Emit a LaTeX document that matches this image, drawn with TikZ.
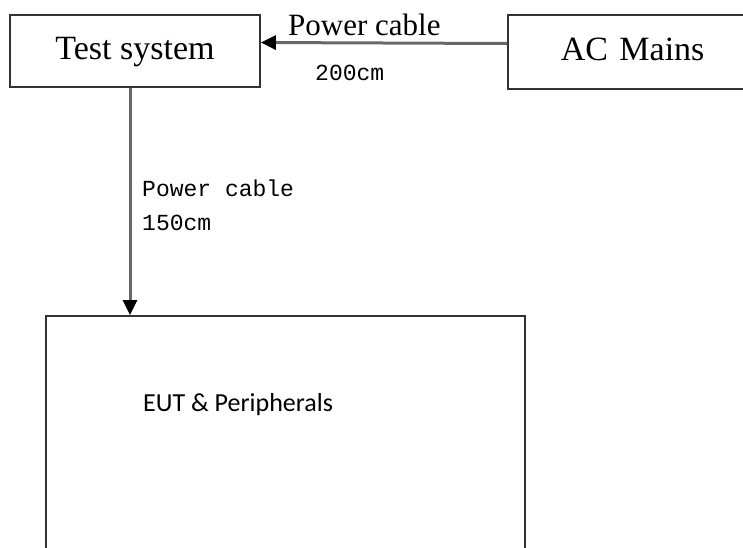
\documentclass[tikz,border=0pt]{standalone}
\usepackage{fontspec}
\setmainfont{Liberation Serif}
\newfontfamily\cablefont{Liberation Mono}
\newfontfamily\eutfont{Carlito}
\usetikzlibrary{positioning,arrows.meta}
\definecolor{wline}{HTML}{333333}
\definecolor{wcable}{HTML}{686868}

\begin{document}
\begin{tikzpicture}[x=1pt, y=-1pt,
  blk/.style={rectangle, draw=wline, line width=1.8pt, fill=white, inner sep=0pt,
    font=\fontsize{34}{40}\selectfont, text height=23pt, text depth=7pt},
  arr/.style={-{Triangle[length=15pt, width=14pt, black]}, line width=3pt, color=wcable},
  lbl/.style={inner sep=0pt, align=left, anchor=base west},
  mono/.style={lbl, font=\cablefont\fontsize{23}{34}\selectfont}
]
\clip (0,0) rectangle (743,547);

\node[blk, minimum width=250pt, minimum height=72pt] (test) at (135,51) {Test system};
\node[blk, anchor=west, align=left, text width=200pt, inner xsep=53pt,
  minimum height=74pt] (mains) at (507,52) {AC Mains};
\node[blk, anchor=north west, minimum width=479pt, minimum height=300pt] (eut) at (45,315) {};
\node[lbl, font=\eutfont\fontsize{26}{30}\selectfont] (eutname)
  at ([xshift=98pt, yshift=-96pt]eut.north west) {EUT \& Peripherals};

\node[lbl, font=\fontsize{31}{36}\selectfont] (mainscable) at (288,35) {Power cable};
\node[mono] (mainslen) at (315,80) {200cm};
\node[mono] (eutcable) at (142,230) {Power cable\\150cm};

\draw[arr] ([yshift=8.5pt]mains.west) -- ([yshift=8.5pt]test.east);
\draw[arr] ([xshift=-5pt]test.south) -- ([xshift=-5pt]test.south |- eut.north);
\end{tikzpicture}
\end{document}
